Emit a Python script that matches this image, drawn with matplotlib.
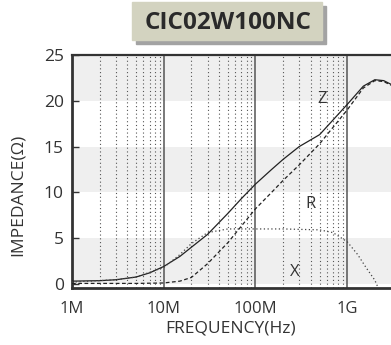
import numpy as np
import matplotlib.pyplot as plt
from matplotlib.patches import Rectangle

plt.rcParams['font.family'] = ['Open Sans', 'DejaVu Sans']

# Kurvor (frekvens i Hz, värden i ohm)
freq_z = [1e6, 2e6, 3e6, 5e6, 7e6, 1e7, 1.5e7, 2e7, 3e7, 5e7, 7e7, 1e8, 1.5e8, 2e8,
          3e8, 5e8, 7e8, 1e9, 1.5e9, 2e9, 2.5e9, 3e9]
z_vals = [0.3, 0.35, 0.45, 0.75, 1.2, 1.9, 3.0, 4.0, 5.4, 7.7, 9.3, 10.9, 12.5, 13.6,
          15.0, 16.3, 17.9, 19.6, 21.6, 22.3, 22.2, 21.8]

freq_r = [1e6, 5e6, 1e7, 1.5e7, 2e7, 3e7, 5e7, 7e7, 1e8, 1.5e8, 2e8, 3e8, 5e8, 7e8,
          1e9, 1.5e9, 2e9, 2.5e9, 3e9]
r_vals = [0.05, 0.05, 0.1, 0.3, 0.7, 2.2, 4.5, 6.3, 8.2, 10.0, 11.3, 13.0, 15.3, 17.1,
          19.0, 21.4, 22.2, 22.1, 21.7]

freq_x = [1e6, 3e6, 5e6, 1e7, 1.5e7, 2e7, 3e7, 5e7, 1e8, 2e8, 5e8, 7e8, 1e9, 1.3e9,
          1.6e9, 2e9, 2.3e9]
x_vals = [0.2, 0.45, 0.75, 1.8, 3.2, 4.4, 5.6, 6.0, 6.0, 6.0, 5.9, 5.6, 4.6, 3.2,
          1.8, 0.4, -1.0]

yticks = [0, 5, 10, 15, 20, 25]
xticks = [1e6, 1e7, 1e8, 1e9]
xticklabels = ['1M', '10M', '100M', '1G']

fig = plt.figure(figsize=(3.91, 3.45), dpi=100)
ax = fig.add_axes([72 / 391, 1 - 288 / 345, 319 / 391, 233 / 345])
ax.set_xscale('log')
ax.set_xlim(1e6, 3e9)
ax.set_ylim(-0.45, 25)

# Grå band
for lo in [0, 10, 20]:
    ax.axhspan(max(lo, -0.45), lo + 5, color='#efefef', zorder=0, lw=0)

# Rutnät
for dec in [1e6, 1e7, 1e8]:
    for m in range(2, 10):
        ax.axvline(dec * m, color='#555555', lw=0.8, ls=(0, (1, 2.4)), zorder=1)
for dec in [1e7, 1e8, 1e9]:
    ax.axvline(dec, color='#555555', lw=1.1, zorder=1)

ax.plot(freq_z, z_vals, color='#222222', lw=0.9, zorder=3)
ax.plot(freq_r, r_vals, color='#222222', lw=0.9, ls=(0, (3, 2)), zorder=3)
ax.plot(freq_x, x_vals, color='#444444', lw=0.9, ls=(0, (1, 2)), zorder=3)

ax.text(5.3e8, 20.2, 'Z', fontsize=12, color='#333333', ha='center', va='center', zorder=4)
ax.text(4.0e8, 8.7, 'R', fontsize=12, color='#333333', ha='center', va='center', zorder=4)
ax.text(2.7e8, 1.3, 'X', fontsize=12, color='#333333', ha='center', va='center', zorder=4)

ax.set_xticks(xticks)
ax.set_xticklabels(xticklabels)
ax.xaxis.set_minor_locator(plt.NullLocator())
ax.set_yticks(yticks)
ax.tick_params(axis='x', length=0, pad=9.5, labelsize=12, labelcolor='#333333')
ax.tick_params(axis='y', direction='in', length=5, width=1, color='#333333',
               pad=6, labelsize=12.5, labelcolor='#333333')

for side in ['left', 'bottom']:
    ax.spines[side].set_linewidth(2)
    ax.spines[side].set_color('#333333')
ax.spines['top'].set_linewidth(1.6)
ax.spines['top'].set_color('#333333')
ax.spines['right'].set_visible(False)

ax.set_xlabel('FREQUENCY(Hz)', fontsize=12.5, color='#333333')
ax.set_ylabel('IMPEDANCE(Ω)', fontsize=12.5, color='#333333')
ax.xaxis.set_label_coords(0.498, -0.14)
ax.yaxis.set_label_coords(-0.144, 0.401)

# Titelruta med skugga
fig.patches.append(Rectangle((136 / 391, 1 - 44 / 345), 190 / 391, 38 / 345,
                             transform=fig.transFigure, color='#a3a3a3', zorder=0))
fig.patches.append(Rectangle((132 / 391, 1 - 40 / 345), 190 / 391, 38 / 345,
                             transform=fig.transFigure, color='#d3d3c0', zorder=1))
fig.text(228 / 391, 1 - 23 / 345, 'CIC02W100NC', fontsize=17.5, fontweight='bold',
         color='#2a2a2a', ha='center', va='center', zorder=2)

fig.savefig('out.png', dpi=100)
